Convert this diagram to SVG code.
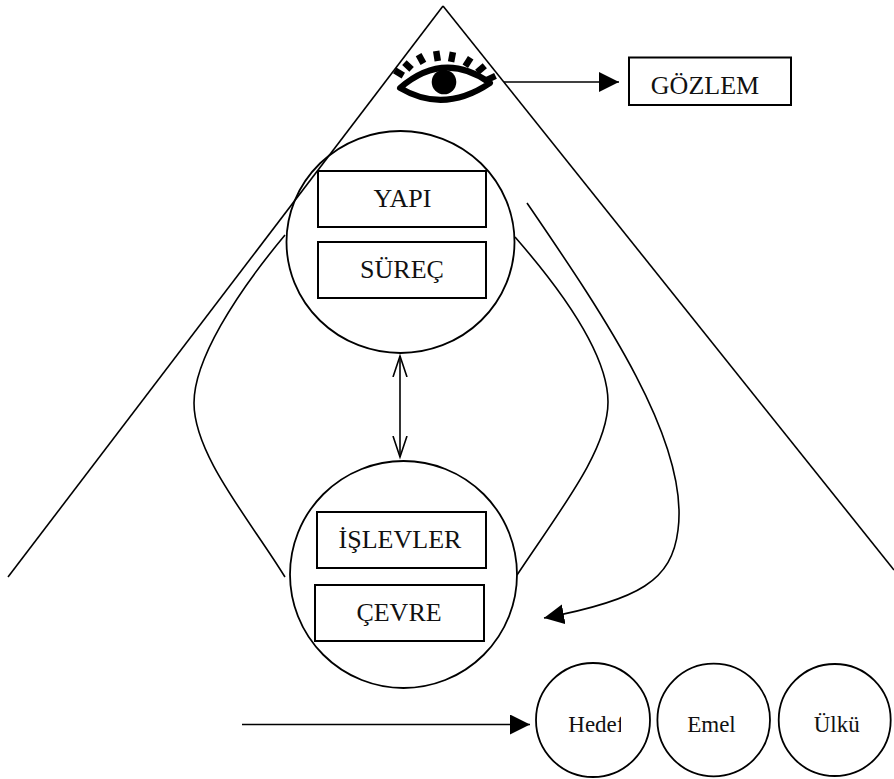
<svg xmlns="http://www.w3.org/2000/svg" width="894" height="779" viewBox="0 0 894 779">
<style>
.ln{fill:none;stroke:#000;stroke-width:1.6}
.box{fill:#fff;stroke:#000;stroke-width:2}
.circ{fill:none;stroke:#000;stroke-width:1.8}
.t{font-family:"Liberation Serif","Times New Roman",serif;font-size:26px;fill:#111;text-anchor:middle}
.ts{font-family:"Liberation Serif","Times New Roman",serif;font-size:23px;fill:#111;text-anchor:middle}
.lash{stroke:#000;stroke-width:6.5;stroke-linecap:butt}
</style>
<defs>
<marker id="fa" markerUnits="userSpaceOnUse" markerWidth="22" markerHeight="22" refX="20" refY="10" orient="auto">
<path d="M0,0 L20,10 L0,20 Z" fill="#000"/>
</marker>
<marker id="va" markerUnits="userSpaceOnUse" markerWidth="24" markerHeight="16" refX="21" refY="8" orient="auto-start-reverse">
<path d="M0,1 L21,8 L0,15" fill="none" stroke="#000" stroke-width="1.6"/>
</marker>
<clipPath id="hclip"><rect x="536" y="660" width="85" height="120"/></clipPath>
</defs>

<g id="triangle">
<line class="ln" x1="443" y1="6" x2="8" y2="577"/>
<line class="ln" x1="443" y1="6" x2="894" y2="570"/>
</g>

<g id="eye">
<path d="M400,88 Q444,50 490,83 Q444,114 400,88 Z" fill="#fff" stroke="#000" stroke-width="6" stroke-linejoin="round"/>
<circle cx="444" cy="82" r="12.3" fill="#000"/>
<line class="lash" x1="394.7" y1="70.4" x2="403.3" y2="75.6"/>
<line class="lash" x1="404.4" y1="62.6" x2="411.6" y2="69.4"/>
<line class="lash" x1="418.6" y1="54.6" x2="423.4" y2="63.4"/>
<line class="lash" x1="436.2" y1="51.1" x2="437.8" y2="60.9"/>
<line class="lash" x1="452.9" y1="52.1" x2="451.1" y2="61.9"/>
<line class="lash" x1="470.7" y1="57.8" x2="465.3" y2="66.2"/>
<line class="lash" x1="484.8" y1="65.8" x2="477.2" y2="72.2"/>
<line class="lash" x1="495.5" y1="75.9" x2="486.5" y2="80.1"/>
</g>

<g id="gozlem">
<rect class="box" x="629" y="57.5" width="162" height="47.5"/>
<text class="t" x="705" y="94">GÖZLEM</text>
</g>

<g id="top-circle">
<ellipse class="circ" cx="400.5" cy="242" rx="114" ry="111"/>
</g>
<g id="yapi">
<rect class="box" x="318" y="171" width="168" height="56"/>
<text class="t" x="402.5" y="207">YAPI</text>
</g>
<g id="surec">
<rect class="box" x="318" y="242" width="168" height="56"/>
<text class="t" x="402" y="278">SÜREÇ</text>
</g>

<g id="bottom-circle">
<circle class="circ" cx="403.5" cy="574.5" r="113.5"/>
</g>
<g id="islevler">
<rect class="box" x="317" y="512" width="169" height="56"/>
<text class="t" x="400" y="548">İŞLEVLER</text>
</g>
<g id="cevre">
<rect class="box" x="315" y="585" width="169" height="56"/>
<text class="t" x="399" y="621">ÇEVRE</text>
</g>

<g id="hedef">
<circle class="circ" cx="593" cy="720" r="57"/>
<text class="ts" x="568.3" y="731.7" style="text-anchor:start" clip-path="url(#hclip)">Hedef</text>
</g>
<g id="emel">
<circle class="circ" cx="713.7" cy="720" r="56.3"/>
<text class="ts" x="711.5" y="731.7">Emel</text>
</g>
<g id="ulku">
<circle class="circ" cx="834.7" cy="720" r="56"/>
<text class="ts" x="836.7" y="731.7">Ülkü</text>
</g>

<g id="connectors">
<line class="ln" x1="504" y1="82" x2="619" y2="82" marker-end="url(#fa)"/>
<line class="ln" x1="400" y1="356" x2="400" y2="457" marker-start="url(#va)" marker-end="url(#va)"/>
<path class="ln" d="M285,235 C235,295 194,360 194,403 C194,455 250,520 285,577"/>
<path class="ln" d="M515,237 C570,300 608,360 608,402 C608,450 560,510 517,575"/>
<path class="ln" d="M527,203 C600,310 690,440 678,530 C672,580 640,600 544,618" marker-end="url(#fa)"/>
<line class="ln" x1="242" y1="724.5" x2="530" y2="724.5" marker-end="url(#fa)"/>
</g>
</svg>
